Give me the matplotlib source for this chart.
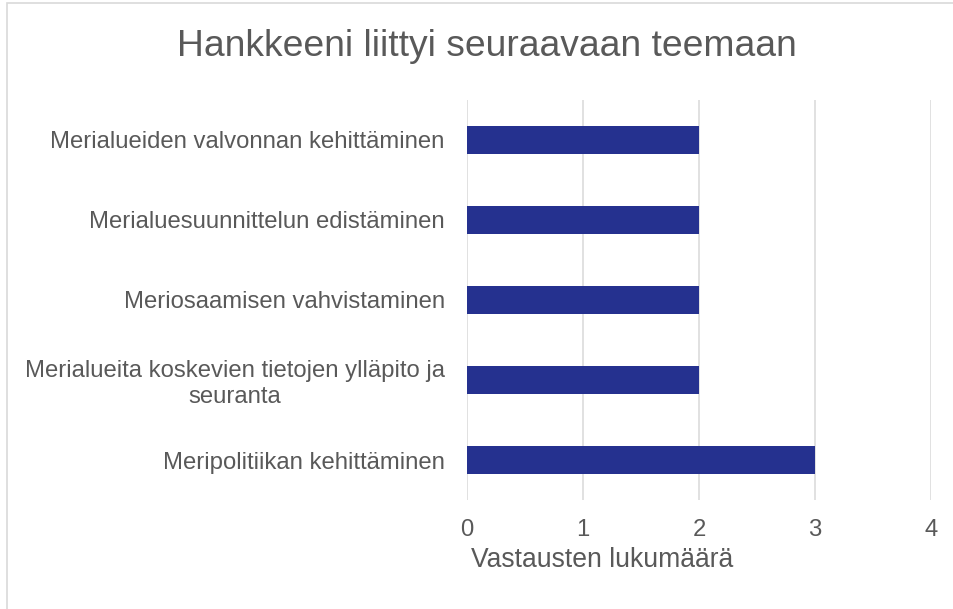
import matplotlib.pyplot as plt
from matplotlib.patches import Rectangle

# teemat ylhäältä alas
teemat = [
    "Merialueiden valvonnan kehittäminen",
    "Merialuesuunnittelun edistäminen",
    "Meriosaamisen vahvistaminen",
    "Merialueita koskevien tietojen ylläpito ja\nseuranta",
    "Meripolitiikan kehittäminen",
]
vastaukset = [2, 2, 2, 2, 3]
x_tiks = [0, 1, 2, 3, 4]

plt.rcParams['font.family'] = ['Liberation Sans', 'DejaVu Sans']
teksti = '#595959'
palkki = '#25318f'
ruudukko = '#d9d9d9'

fig = plt.figure(figsize=(9.54, 6.09), dpi=100)
ax = fig.add_axes([467 / 954, 1 - 500 / 609, (931 - 467) / 954, 400 / 609])

pos = list(range(len(teemat)))
ax.barh(pos, vastaukset, height=0.35, color=palkki, zorder=3)
ax.set_ylim(len(teemat) - 0.5, -0.5)
ax.set_xlim(0, 4)
ax.set_xticks(x_tiks)
ax.set_yticks(pos)
ax.set_yticklabels(teemat, fontsize=17.2, color=teksti, multialignment='center')
ax.tick_params(axis='x', length=0, pad=14, labelsize=17.2, labelcolor=teksti)
ax.tick_params(axis='y', length=0, pad=16)
ax.grid(axis='x', color=ruudukko, linewidth=1.1, zorder=0)
for s in ax.spines.values():
    s.set_visible(False)

fig.text(602 / 954, 1 - 560 / 609, "Vastausten lukumäärä", fontsize=19.1,
         color=teksti, ha='center', va='center')
fig.text(487 / 954, 1 - 47 / 609, "Hankkeeni liittyi seuraavaan teemaan",
         fontsize=26.8, color=teksti, ha='center', va='center')

# kehys
fig.patches.append(Rectangle((7 / 954, -0.1), 1.2, 1 - 3 / 609 + 0.1,
                             transform=fig.transFigure, fill=False,
                             edgecolor=ruudukko, linewidth=1.2))

fig.savefig('out.png', dpi=100)
